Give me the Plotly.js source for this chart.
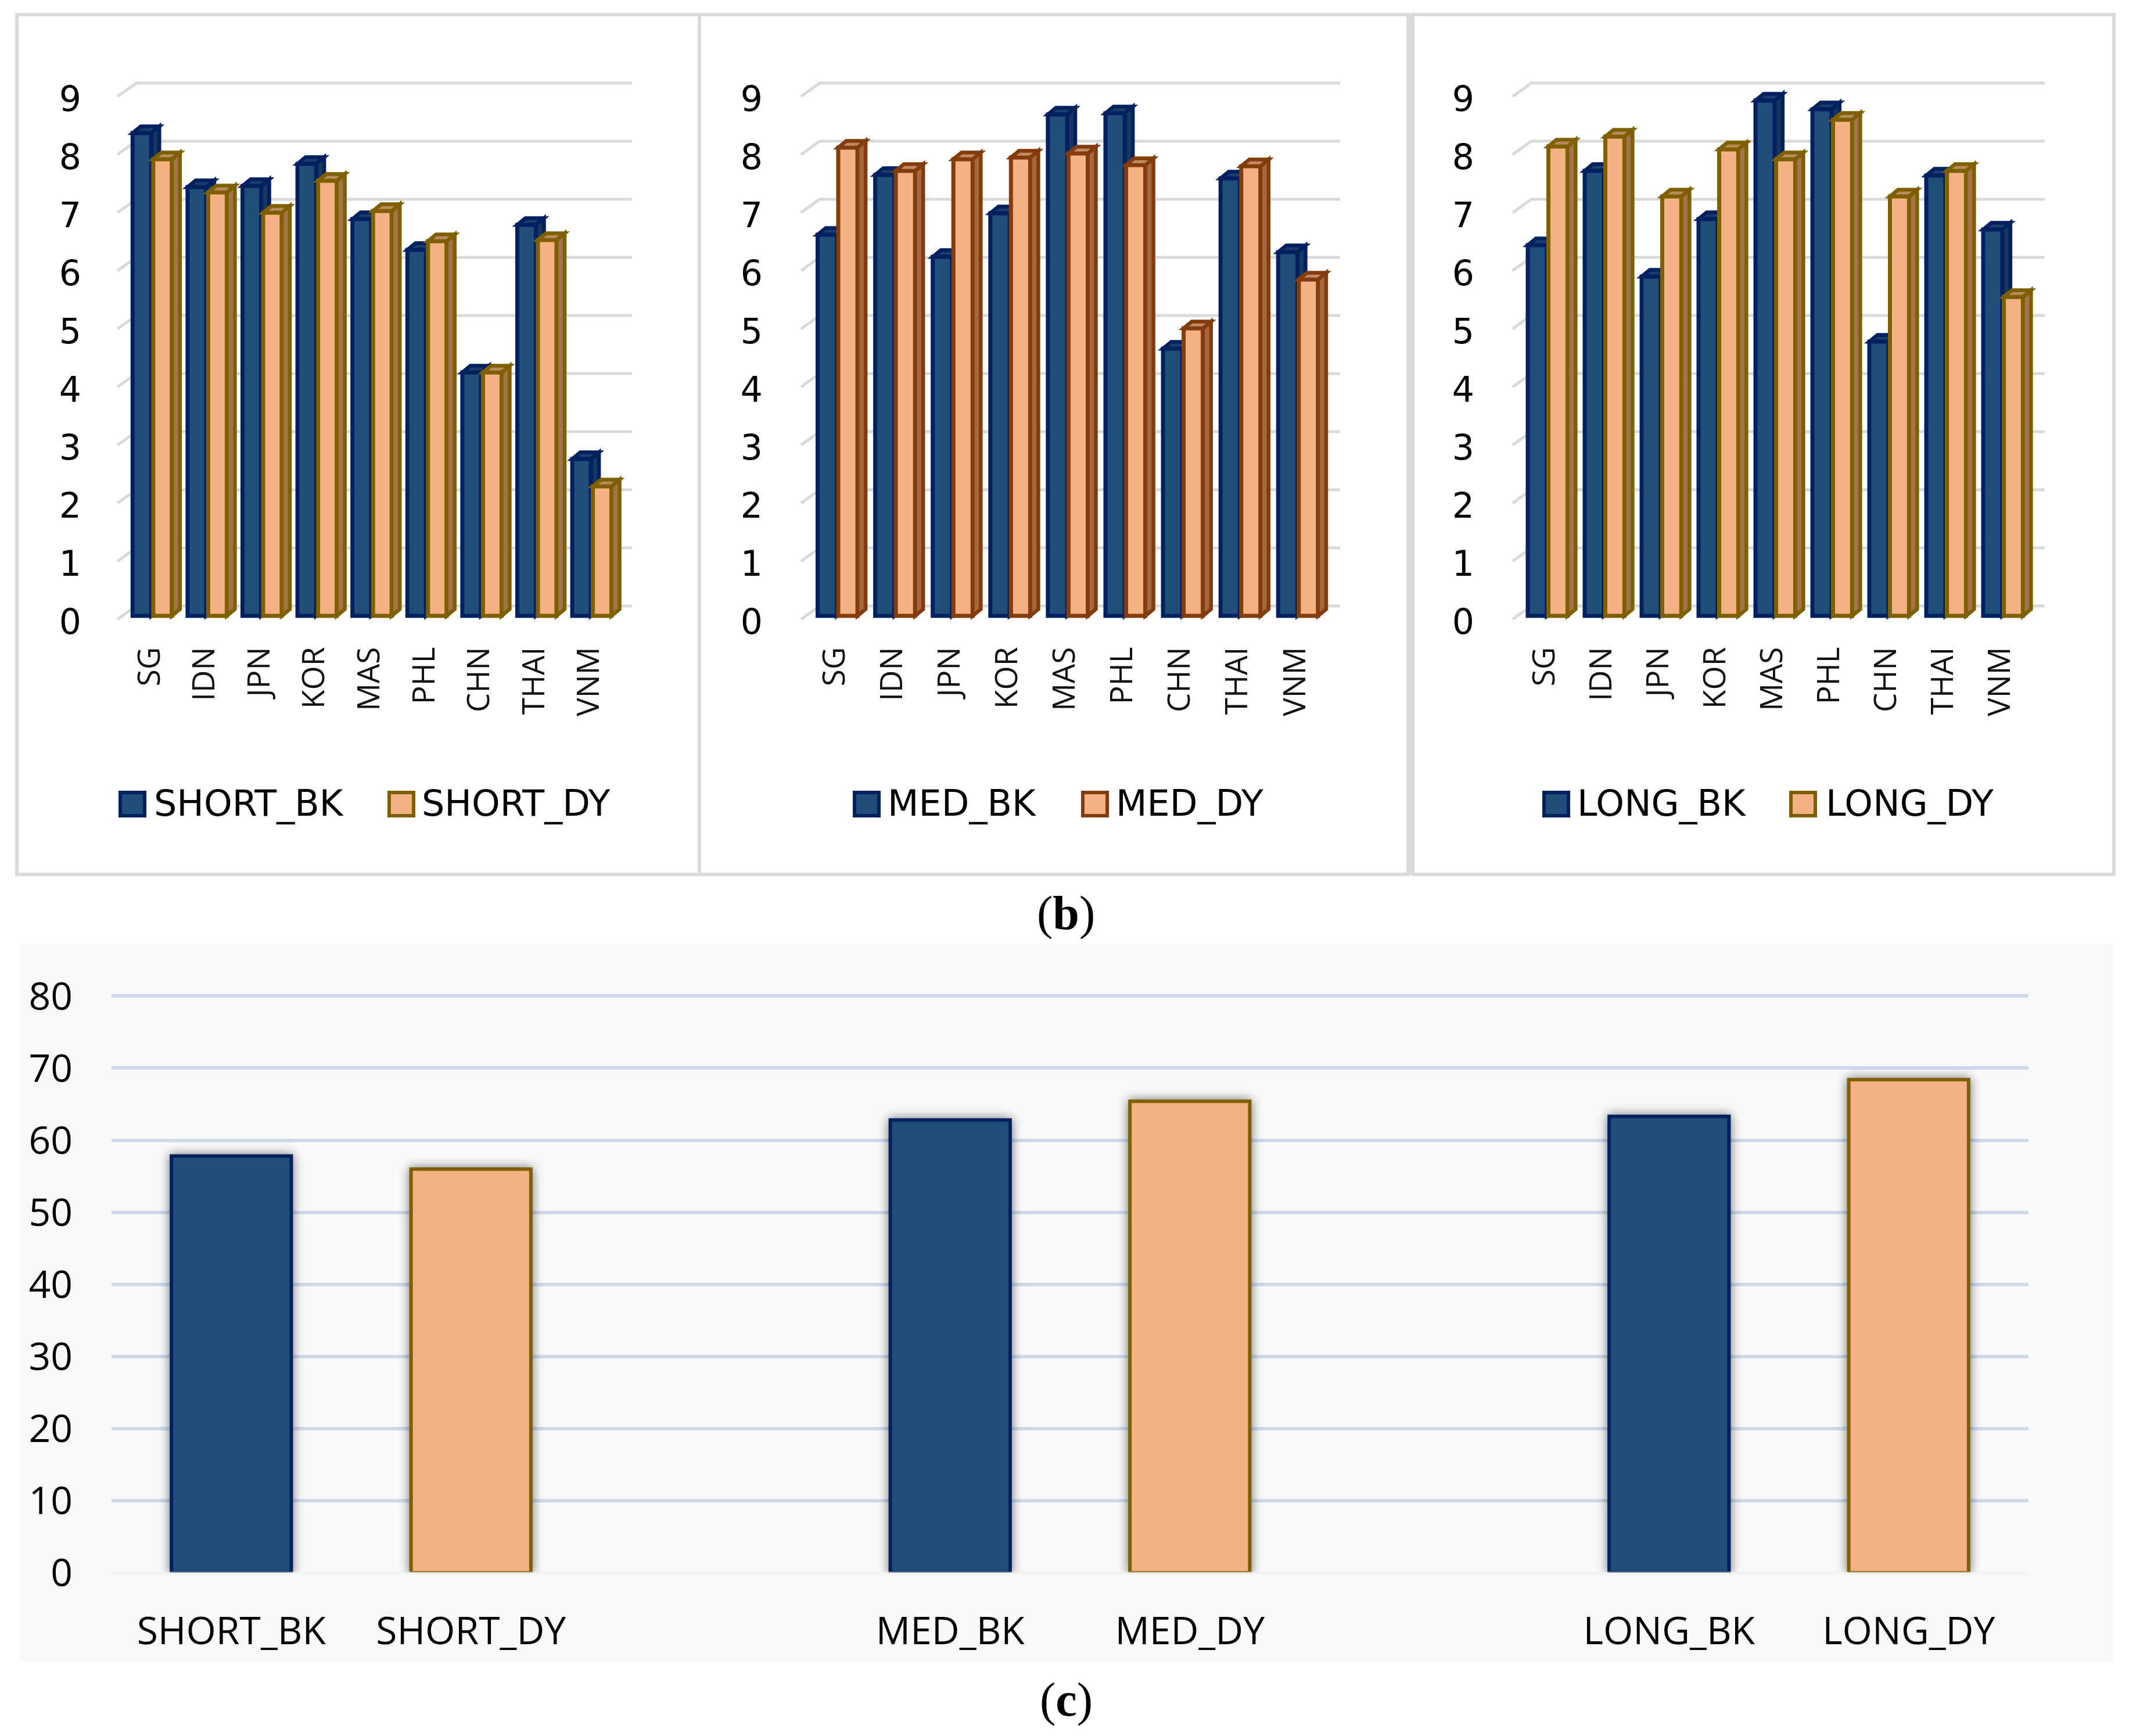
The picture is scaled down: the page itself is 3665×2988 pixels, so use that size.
<!DOCTYPE html>
<html><head><meta charset="utf-8">
<script src="https://cdn.plot.ly/plotly-3.0.1.min.js"></script>
<style>
html,body{margin:0;padding:0;background:#fff}
.x4y4 .barlayer .point path{filter:drop-shadow(0 0 9px rgba(0,0,0,.55))}
</style></head><body><div id="chart" style="width:3665px;height:2988px"></div>
<script>
// ---------- data ----------
const countries = ["SG","IDN","JPN","KOR","MAS","PHL","CHN","THAI","VNM"];
const yTicks = [0,1,2,3,4,5,6,7,8,9];
const shortBK = [8.31,7.38,7.40,7.78,6.83,6.30,4.19,6.73,2.70];
const shortDY = [7.86,7.29,6.94,7.49,6.97,6.45,4.19,6.47,2.23];
const medBK   = [6.56,7.59,6.18,6.93,8.63,8.65,4.60,7.53,6.26];
const medDY   = [8.06,7.66,7.86,7.89,7.96,7.76,4.95,7.74,5.79];
const longBK  = [6.38,7.66,5.84,6.83,8.87,8.72,4.72,7.58,6.65];
const longDY  = [8.08,8.25,7.22,8.03,7.86,8.54,7.22,7.66,5.49];
const totalCats = ["SHORT_BK","SHORT_DY"," ","MED_BK","MED_DY","  ","LONG_BK","LONG_DY"];
const totalBKcats = ["SHORT_BK","MED_BK","LONG_BK"];
const totalDYcats = ["SHORT_DY","MED_DY","LONG_DY"];
const totalBK = [57.8,62.8,63.3];
const totalDY = [56.0,65.4,68.4];
const totalTicks = [0,10,20,30,40,50,60,70,80];

// ---------- styling ----------
const W=3665,H=2988, px=x=>x/W, py=y=>1-y/H;
const BK={fill:"#1F4E79",line:"#002060",side:"#17375E",top:"#1B3F6B"};
const DYa={fill:"#F4B183",line:"#7F6000",side:"#A5734A",top:"#B98A5E"};
const DYb={fill:"#F4B183",line:"#843C0C",side:"#A5683F",top:"#C08A62"};
const tickFont={family:"DejaVu Sans",size:60,color:"#000"};
const catFont={family:"Open Sans",size:53,color:"#111"};
const legFont={family:"DejaVu Sans",size:62,color:"#000"};
const totFont={family:"Open Sans",size:66,color:"#000"};
const Y0=1060,UNIT=100,YTOP=120,YBOT=1070;

const panels=[
 {n:"",  bk:shortBK,dy:shortDY,nb:"SHORT_BK",nd:"SHORT_DY",c0:260.3,sp:94.6,gl:202,gb:235,ge:1088,lab:135,dyS:DYa,
  leg:[205,264,668,725],frame:[29,1204]},
 {n:"2", bk:medBK,  dy:medDY,  nb:"MED_BK",  nd:"MED_DY",  c0:1439.5,sp:99.1,gl:1379,gb:1411,ge:2307,lab:1308,dyS:DYb,
  leg:[1469,1527,1862,1920],frame:[1204,2424]},
 {n:"3", bk:longBK, dy:longDY, nb:"LONG_BK", nd:"LONG_DY", c0:2662,sp:98,gl:2604,gb:2636,ge:3520,lab:2533,dyS:DYa,
  leg:[2656,2714,3081,3142],frame:[2432,3639]}
];

const traces=[],shapes=[],annotations=[];
const layout={width:W,height:H,margin:{l:0,r:0,t:0,b:0},paper_bgcolor:"#fff",plot_bgcolor:"rgba(0,0,0,0)",
  barmode:"overlay",showlegend:false,shapes,annotations,font:{family:"DejaVu Sans"}};

// frames
panels.forEach(p=>shapes.push({type:"rect",xref:"paper",yref:"paper",layer:"below",
  x0:px(p.frame[0]),x1:px(p.frame[1]),y0:py(1505),y1:py(25),line:{color:"#D9D9D9",width:6},fillcolor:"rgba(0,0,0,0)"}));
shapes.push({type:"rect",xref:"paper",yref:"paper",layer:"below",x0:px(2422),x1:px(2434),y0:py(1505),y1:py(25),
  line:{width:0},fillcolor:"#D9D9D9"});
// background of lower chart
shapes.push({type:"rect",xref:"paper",yref:"paper",layer:"below",x0:px(35),x1:px(3639),y0:py(2860),y1:py(1624),
  line:{width:0},fillcolor:"#F9F9F9"});

panels.forEach(p=>{
  const xa="x"+p.n, ya="y"+p.n;
  const left=p.gl-8,right=p.ge+8;
  const toX=v=>(v-p.c0)/p.sp;
  const xi=Array.from(countries.keys());
  layout["xaxis"+p.n]={domain:[px(left),px(right)],range:[toX(left),toX(right)],anchor:ya,type:"linear",
    tickmode:"array",tickvals:xi,ticktext:countries,tickangle:-90,tickfont:catFont,showgrid:false,zeroline:false,
    showline:false,ticks:"",ticklabelstandoff:32,ticklabelshift:-3};
  layout["yaxis"+p.n]={domain:[py(YBOT),py(YTOP)],range:[(Y0-YBOT)/UNIT,(Y0-YTOP)/UNIT],anchor:xa,
    tickmode:"array",tickvals:yTicks,ticktext:yTicks.map(String),tickfont:tickFont,showgrid:false,zeroline:false,
    showline:false,ticks:"",ticklabelstandoff:left-p.lab-6,ticklabelshift:10};

  // floor/back gridlines
  yTicks.forEach(v=>shapes.push({type:"path",xref:xa,yref:ya,layer:"below",
    path:`M${toX(p.gl)},${v-0.06} L${toX(p.gb)},${v+0.17} L${toX(p.ge)},${v+0.17}`,
    line:{color:"#D9D9D9",width:5},fillcolor:"rgba(0,0,0,0)"}));

  const gapL=-(37.5-5.5)/p.sp, gapR=3.5/p.sp;
  const w=(32+(p.sp-94.6)*0.25)/p.sp;
  const ddx=14/p.sp, ddy=0.115;
  const depth=(x0,v,st,layer)=>{
    const r=x0+w, l=x0;
    shapes.push({type:"path",xref:xa,yref:ya,layer,line:{color:st.line,width:6.5},fillcolor:st.side,
      path:`M${r},${v} L${r+ddx},${v+ddy} L${r+ddx},${ddy} L${r},0 Z`});
    shapes.push({type:"path",xref:xa,yref:ya,layer,line:{color:st.line,width:6.5},fillcolor:st.top,
      path:`M${l},${v} L${l+ddx},${v+ddy} L${r+ddx},${v+ddy} L${r},${v} Z`});
  };
  p.bk.forEach((v,i)=>depth(i+gapL,v,BK,"below"));
  p.dy.forEach((v,i)=>depth(i+gapR,v,p.dyS,"above"));

  traces.push({type:"bar",name:p.nb,x:xi,y:p.bk,xaxis:xa,yaxis:ya,width:w,offset:gapL,
    marker:{color:BK.fill,line:{color:BK.line,width:7}},hoverinfo:"x+y"});
  traces.push({type:"bar",name:p.nd,x:xi,y:p.dy,xaxis:xa,yaxis:ya,width:w,offset:gapR,
    marker:{color:p.dyS.fill,line:{color:p.dyS.line,width:7}},hoverinfo:"x+y"});

  // legend
  const sw=(x,st)=>shapes.push({type:"rect",xref:"paper",yref:"paper",layer:"above",x0:px(x+2),x1:px(x+44),y0:py(1404),y1:py(1364),
     line:{color:st.line,width:6},fillcolor:st.fill});
  sw(p.leg[0],BK); sw(p.leg[2],p.dyS);
  [[p.leg[1],p.nb],[p.leg[3],p.nd]].forEach(([x,t])=>annotations.push({xref:"paper",yref:"paper",x:px(x),y:py(1382),
     xanchor:"left",yanchor:"middle",showarrow:false,text:t,font:legFont,borderpad:0}));
});

// lower chart
const L4=192,R4=3492;
layout.xaxis4={domain:[px(L4),px(R4)],anchor:"y4",type:"category",categoryorder:"array",categoryarray:totalCats,
  range:[-0.5,7.5],tickmode:"array",tickvals:totalCats,ticktext:totalCats,tickfont:totFont,tickangle:0,
  showgrid:false,zeroline:false,showline:false,ticks:"",ticklabelstandoff:56};
layout.yaxis4={domain:[py(2707),py(1702)],range:[0,81],anchor:"x4",tickmode:"array",tickvals:totalTicks,
  ticktext:totalTicks.map(String),tickfont:totFont,showgrid:true,gridcolor:"#CFD9EC",gridwidth:6,zeroline:false,
  showline:false,ticks:"",ticklabelstandoff:66};
traces.push({type:"bar",name:"BK",x:totalBKcats,y:totalBK,xaxis:"x4",yaxis:"y4",width:0.5,
  marker:{color:BK.fill,line:{color:BK.line,width:6}}});
traces.push({type:"bar",name:"DY",x:totalDYcats,y:totalDY,xaxis:"x4",yaxis:"y4",width:0.5,
  marker:{color:DYa.fill,line:{color:DYa.line,width:6}}});
shapes.push({type:"line",xref:"paper",yref:"paper",layer:"above",x0:px(L4),x1:px(R4),y0:py(2708),y1:py(2708),
  line:{color:"rgba(240,240,240,.55)",width:6}});

// captions
[["(<b>b</b>)",1571],["(<b>c</b>)",2925]].forEach(([t,y])=>annotations.push({xref:"paper",yref:"paper",x:px(1835),y:py(y),
  xanchor:"center",yanchor:"middle",showarrow:false,text:t,font:{family:"Liberation Serif",size:82,color:"#000"}}));

Plotly.newPlot("chart",traces,layout,{displayModeBar:false,responsive:false});
</script></body></html>
